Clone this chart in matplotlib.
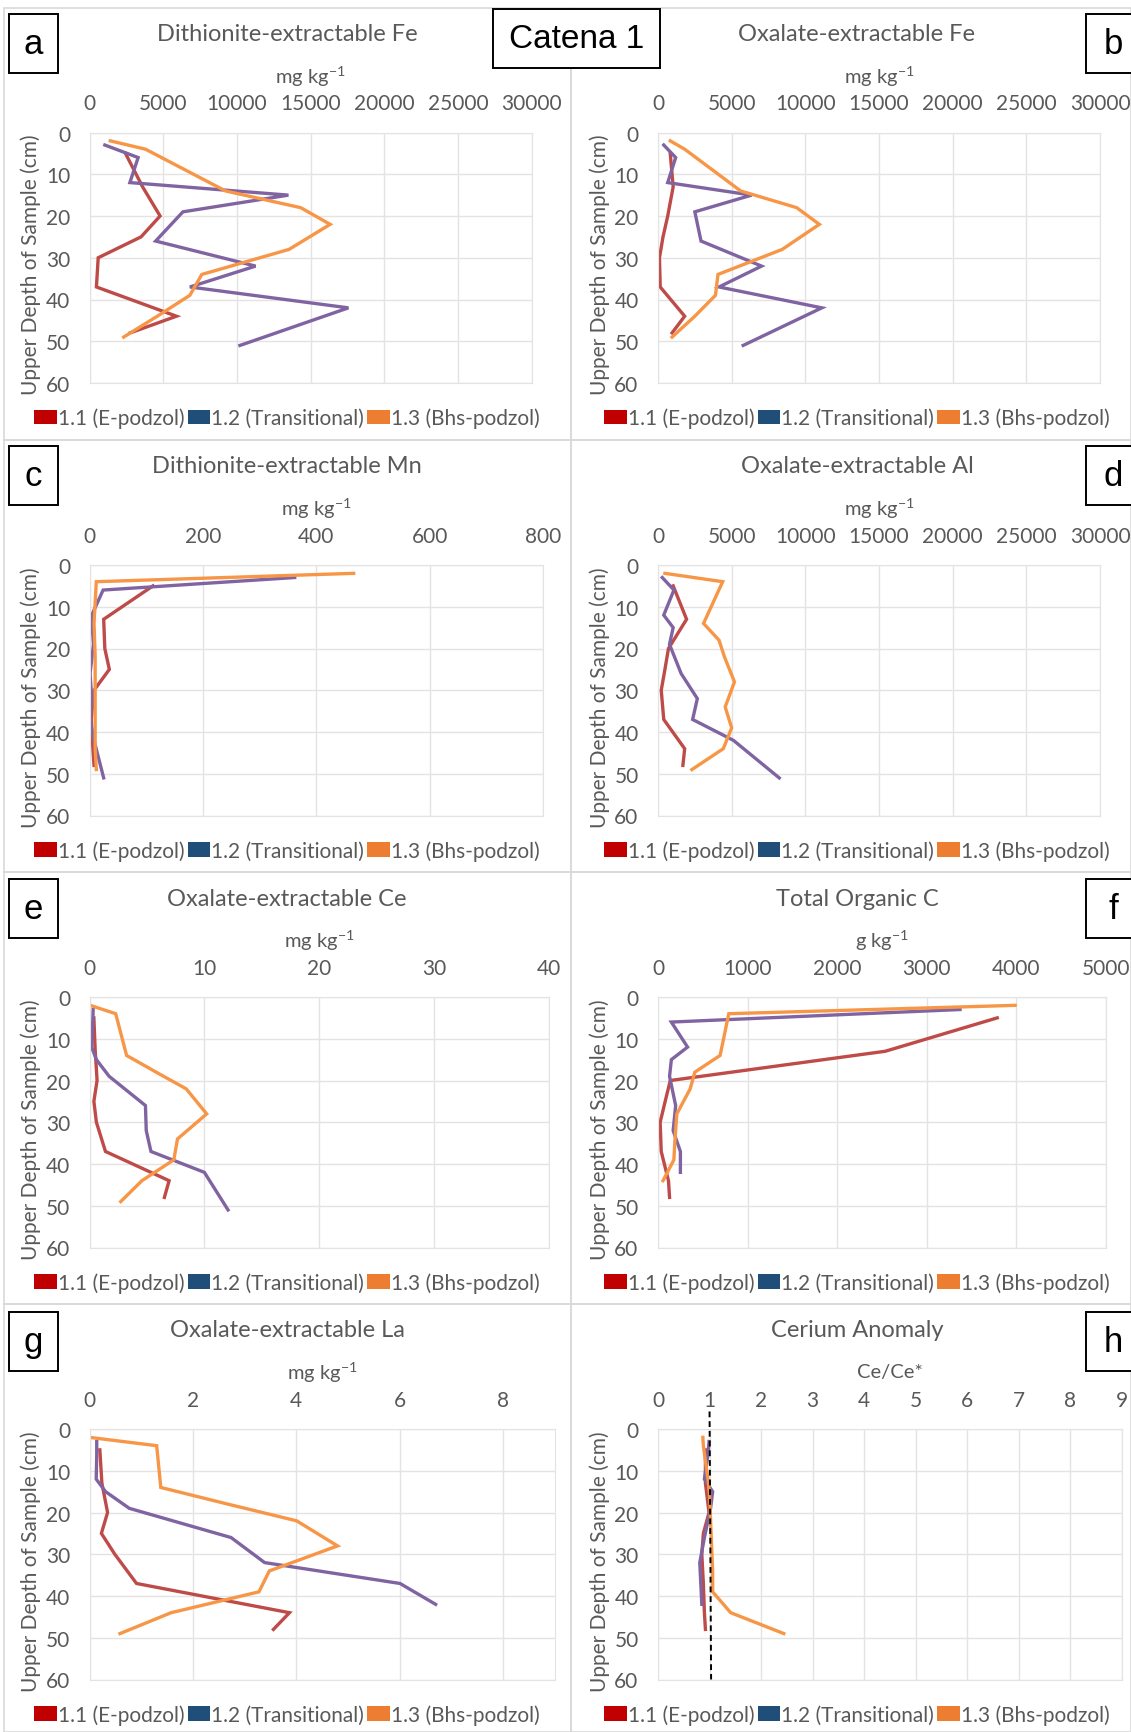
import matplotlib
matplotlib.use('Agg')
import matplotlib.pyplot as plt
from matplotlib.patches import Rectangle, Patch
import numpy as np

plt.rcParams['font.family'] = ['Lato', 'DejaVu Sans']
plt.rcParams['mathtext.fontset'] = 'custom'
plt.rcParams['mathtext.rm'] = 'Lato'

W, H = 1131, 1733
grey = '#595959'
grid_col = '#E3E3E3'
line_cols = ['#BE4B48', '#8064A2', '#F79646']
legend_cols = ['#C00000', '#1F4E79', '#ED7D31']
series_names = ['1.1 (E-podzol)', '1.2 (Transitional)', '1.3 (Bhs-podzol)']

# sample depths (cm) for each profile
depth_11 = [5, 13, 20, 25, 30, 37, 44, 48]
depth_12 = [3, 6, 12, 15, 19, 26, 32, 37, 42, 51]
depth_13 = [2, 4, 14, 18, 22, 28, 34, 39, 44, 49]
nan = np.nan

# a - dithionite Fe (mg/kg)
fed_11 = [2440, 3600, 4790, 3500, 590, 470, 5900, 2760]
fed_12 = [1040, 3300, 2740, 13500, 6340, 4490, 11270, 6810, 17570, 10210]
fed_13 = [1410, 3800, 9230, 14330, 16330, 13540, 7620, 6810, 4600, 2320]
# b - oxalate Fe
feo_11 = [830, 1030, 660, 340, 100, 150, 1810, 955]
feo_12 = [390, 1200, 660, 6350, 2500, 2920, 7030, 4140, 11120, 5780]
feo_13 = [830, 1810, 5610, 9410, 10950, 8430, 4070, 3900, 2500, 955]
# c - dithionite Mn
mnd_11 = [112, 25, 27, 35, 8, 3, 6, 8]
mnd_12 = [362, 24, 4, 5, 7, 1, 4, 1, 8, 25]
mnd_13 = [466, 12, 8, 9, 10, 10, 10, 10, 10, 12]
# d - oxalate Al
alo_11 = [1030, 1940, 710, 470, 220, 390, 1810, 1690]
alo_12 = [290, 1080, 390, 1030, 780, 1570, 2670, 2350, 5120, 8230]
alo_13 = [470, 4390, 3090, 4140, 4510, 5190, 4560, 5000, 4430, 2300]
# e - oxalate Ce
ceo_11 = [0.38, 0.5, 0.66, 0.38, 0.6, 1.39, 6.93, 6.52]
ceo_12 = [0.32, 0.28, 0.19, 0.6, 1.71, 4.87, 4.94, 5.35, 10.0, 12.06]
ceo_13 = [0.06, 2.28, 3.23, 5.8, 8.42, 10.2, 7.66, 7.34, 4.56, 2.72]
# f - total organic C (g/kg)
toc_11 = [3786, 2536, 137, 80, 24, 36, 117, 129]
toc_12 = [3371, 149, 330, 149, 129, 197, 169, 250, 250, nan]
toc_13 = [3986, 790, 693, 411, 359, 210, 190, 177, 56, nan]
# g - oxalate La
lao_11 = [0.20, 0.24, 0.35, 0.23, 0.49, 0.91, 3.87, 3.56]
lao_12 = [0.14, 0.14, 0.13, 0.31, 0.77, 2.74, 3.39, 6.01, 6.70, nan]
lao_13 = [0.0, 1.30, 1.38, 2.68, 4.01, 4.80, 3.48, 3.28, 1.58, 0.59]
# h - cerium anomaly
cea_11 = [0.92, 0.92, 0.99, 0.88, 0.85, 0.88, 0.90, 0.92]
cea_12 = [0.99, 0.97, 0.90, 1.06, 1.02, 0.90, 0.81, 0.83, 0.85, nan]
cea_13 = [0.87, 0.88, 0.99, 1.01, 1.02, 1.04, 1.06, 1.06, 1.41, 2.44]
ce_ref_x = [1.0, 1.03]
ce_ref_depth = [-4.2, 60]

panels = [
    ('a', 'Dithionite-extractable Fe', 'mg kg$^{\\mathregular{-1}}$', 30000, 5000, [fed_11, fed_12, fed_13]),
    ('b', 'Oxalate-extractable Fe', 'mg kg$^{\\mathregular{-1}}$', 30000, 5000, [feo_11, feo_12, feo_13]),
    ('c', 'Dithionite-extractable Mn', 'mg kg$^{\\mathregular{-1}}$', 800, 200, [mnd_11, mnd_12, mnd_13]),
    ('d', 'Oxalate-extractable Al', 'mg kg$^{\\mathregular{-1}}$', 30000, 5000, [alo_11, alo_12, alo_13]),
    ('e', 'Oxalate-extractable Ce', 'mg kg$^{\\mathregular{-1}}$', 40, 10, [ceo_11, ceo_12, ceo_13]),
    ('f', 'Total Organic C', 'g kg$^{\\mathregular{-1}}$', 5000, 1000, [toc_11, toc_12, toc_13]),
    ('g', 'Oxalate-extractable La', 'mg kg$^{\\mathregular{-1}}$', 9, 2, [lao_11, lao_12, lao_13]),
    ('h', 'Cerium Anomaly', 'Ce/Ce*', 9, 1, [cea_11, cea_12, cea_13]),
]
depths = [depth_11, depth_12, depth_13]

# layout in pixels
row_top = [133.5, 566, 998, 1430]
ax_h = 250.5
col_left = [89.5, 658]
right_edge = [531.6, 1100, 543, 1100, 549, 1106, 554.5, 1122]
title_x = [287, 857]
card_x = [(4, 571), (571, 1131)]
card_y = [(9, 441), (441, 873), (873, 1305), (1305, 1733)]
box_top = [15, 447, 880, 1313]


def fx(x):
    return x / W


def fy(y):
    return 1 - y / H


fig = plt.figure(figsize=(W / 100, H / 100), dpi=100)

# chart card borders
for r in range(4):
    for c in range(2):
        x0, x1 = card_x[c]
        y0, y1 = card_y[r]
        fig.patches.append(Rectangle((fx(x0), fy(y1)), fx(x1 - x0), (y1 - y0) / H,
                                     transform=fig.transFigure, fill=False,
                                     edgecolor='#D9D9D9', lw=1.2, zorder=0))

for i, (letter, title, unit, xmax, step, vals) in enumerate(panels):
    r, c = divmod(i, 2)
    left = col_left[c]
    top = row_top[r]
    right = right_edge[i]
    ax = fig.add_axes([fx(left), fy(top + ax_h), fx(right - left), ax_h / H])
    for k in range(3):
        ax.plot(vals[k], depths[k], color=line_cols[k], lw=2.4, solid_joinstyle='miter')
    if letter == 'h':
        ax.plot(ce_ref_x, ce_ref_depth, color='black', lw=1.4, ls=(0, (3, 2)), clip_on=False)
    ax.set_xlim(0, xmax)
    ax.set_ylim(60, 0)
    ax.set_xticks(np.arange(0, xmax + 0.01, step))
    ax.set_yticks(range(0, 61, 10))
    ax.xaxis.tick_top()
    ax.tick_params(length=0, labelsize=15, labelcolor=grey, pad=14)
    ax.grid(True, color=grid_col, lw=1)
    ax.set_axisbelow(True)
    for s in ax.spines.values():
        s.set_color(grid_col)
    mid = (left + right) / 2
    fig.text(fx(title_x[c]), fy(top - 99), title, ha='center', va='center', size=17, color=grey)
    fig.text(fx(mid), fy(top - 57), unit, ha='center', va='center', size=14.5, color=grey)
    fig.text(fx(left - 58.5), fy(top + ax_h / 2 + 6), 'Upper Depth of Sample (cm)',
             rotation=90, ha='center', va='center', size=15, color=grey)
    handles = [Patch(facecolor=legend_cols[k], edgecolor='none', label=series_names[k]) for k in range(3)]
    fig.legend(handles=handles, loc='center', ncol=3, frameon=False,
               bbox_to_anchor=(fx(title_x[c]), fy(top + ax_h + 35)),
               fontsize=15, labelcolor=grey, handlelength=1.1, handleheight=0.68,
               handletextpad=0.05, columnspacing=0.15, borderpad=0, borderaxespad=0)
    # panel letter box
    bt = box_top[r]
    if c == 0:
        bx0, bx1, tx = 9, 57.5, 33
    else:
        bx0, bx1, tx = 1086, 1141, 1113
    fig.patches.append(Rectangle((fx(bx0), fy(bt + 59)), fx(bx1 - bx0), 59 / H,
                                 transform=fig.transFigure, facecolor='white',
                                 edgecolor='black', lw=1.4, zorder=5))
    fig.text(fx(tx), fy(bt + 29.5), letter, ha='center', va='center', size=25,
             family='Liberation Sans', color='black', zorder=6)

# catena label
fig.patches.append(Rectangle((fx(493), fy(69)), fx(167), 59 / H, transform=fig.transFigure,
                             facecolor='white', edgecolor='black', lw=1.4, zorder=5))
fig.text(fx(576.5), fy(39.5), 'Catena 1', ha='center', va='center', size=24,
         family='Liberation Sans', color='black', zorder=6)

fig.savefig('out.png', dpi=100, facecolor='white')
